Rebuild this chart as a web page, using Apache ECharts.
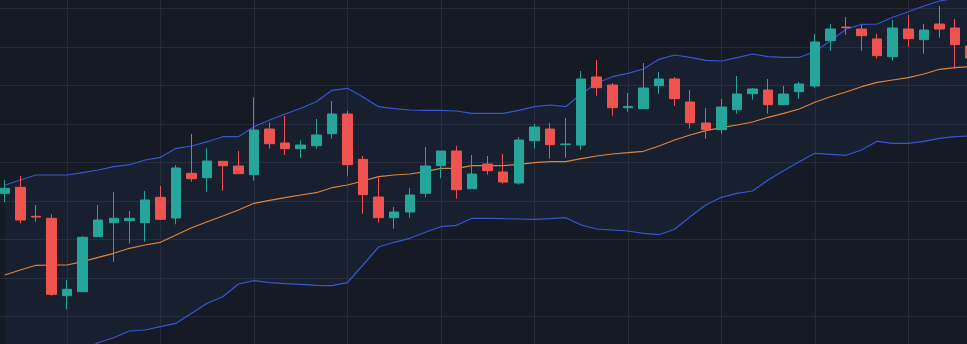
<!DOCTYPE html>
<html>
<head>
<meta charset="utf-8">
<script src="https://cdn.jsdelivr.net/npm/echarts@6/dist/echarts.min.js"></script>
<style>
html,body{margin:0;padding:0;background:#161a25;overflow:hidden;width:967px;height:344px;position:relative;}
#chart{position:absolute;left:-4px;top:-31px;width:990px;height:426px;}
</style>
</head>
<body>
<div id="chart"></div>
<script>
const categories = Array.from({length: 63}, (_, i) => 'Bar ' + (i + 1));

// [open, close, low, high]
const ohlc = [
[161.5,166.5,152.5,174.8],[167.5,134.8,131.5,178.8],[138.5,137.8,133.1,149.8],[136.5,60.5,59.1,140.5],
[59.1,65.5,45.5,74.8],[63.1,117.5,63.1,118.8],[118.1,134.8,118.1,149.8],[132.1,136.5,93.1,162.8],
[134.1,136.5,111.5,143.8],[132.1,154.8,113.1,163.8],[157.5,135.5,134.8,168.8],[136.8,186.8,130.5,189.8],
[181.5,176.1,173.1,220.8],[177.1,193.8,162.8,206.5],[193.5,189.1,164.1,193.5],[188.8,181.1,181.1,203.8],
[180.1,224.8,174.1,257.5],[225.8,211.1,206.1,232.5],[211.8,206.1,199.8,238.8],[206.1,209.8,197.1,214.5],
[209.1,219.8,206.1,235.8],[221.1,240.8,216.1,253.8],[240.8,190.1,179.1,244.1],[195.5,160.1,141.1,198.8],
[157.8,137.1,132.1,177.1],[137.1,142.8,126.1,147.8],[142.8,159.8,137.1,166.8],[161.5,188.8,157.5,207.8],
[189.1,203.8,176.5,203.8],[203.8,165.1,156.1,208.8],[166.1,180.8,166.1,199.8],[190.8,184.1,180.1,198.8],
[182.8,172.8,171.1,200.8],[171.8,214.8,170.1,217.8],[214.1,227.8,206.1,230.8],[225.8,210.1,196.1,231.8],
[210.1,210.8,197.1,236.8],[209.8,275.8,204.8,283.8],[277.8,267.1,259.1,294.8],[269.8,247.1,239.1,271.8],
[247.1,248.3,243.1,261.8],[246.1,266.8,246.1,291.8],[269.1,275.8,261.1,282.8],[275.8,256.1,249.1,277.8],
[252.8,232.1,226.1,264.8],[231.8,225.1,216.1,246.8],[225.1,247.8,221.1,255.8],[245.1,260.8,241.1,278.8],
[261.1,265.8,255.1,266.8],[264.8,250.1,241.1,275.8],[250.1,260.8,250.1,268.8],[263.1,270.8,256.1,272.8],
[268.8,312.8,266.8,320.8],[314.1,325.8,304.1,330.8],[327.8,327.1,320.1,337.8],[325.8,319.1,304.1,329.8],
[315.8,299.1,296.1,320.8],[298.1,326.8,294.1,334.8],[325.8,316.1,308.1,339.8],[315.1,324.8,301.1,330.8],
[330.8,325.8,317.1,348.8],[326.8,310.1,286.1,335.8],[308.8,296.8,292.8,314.8]
];

const upperBand = [169.5,174.8,179.8,179.8,179.8,182.1,184.8,188.1,190.1,194.8,197.5,206.5,208.8,213.1,218.1,218.1,
228.1,234.8,240.8,246.5,253.1,264.5,266.5,257.8,248.1,246.1,244.8,244.5,244.5,243.8,241.5,241.5,241.5,244.5,
248.1,249.8,248.1,260.8,271.5,278.1,281.5,285.8,295.5,299.8,297.5,294.5,293.8,297.1,300.8,298.1,297.5,297.5,
303.1,314.1,325.5,330.5,330.8,337.5,343.1,348.8,353.8,356.3,357.8];

const middleBand = [79.8,84.8,89.5,89.8,89.8,93.1,97.5,101.5,106.5,109.8,112.5,119.8,127.1,133.1,138.8,144.8,
151.5,154.5,157.1,159.8,162.1,167.1,169.8,173.8,178.1,179.8,180.8,183.1,186.5,186.5,189.1,189.1,189.1,190.5,
192.1,193.1,193.1,196.1,198.8,200.8,202.1,203.5,208.8,214.8,219.8,224.1,227.1,229.8,232.8,237.5,241.5,245.8,
252.5,258.1,262.8,268.1,272.5,274.8,277.1,280.8,285.5,287.1,288.1];

const lowerBand = [-9.9,-5.2,-0.8,-0.2,-0.2,4.3,12.1,17.1,23.8,24.8,28.1,31.5,41.5,51.5,58.1,70.8,
74.1,72.1,71.1,70.5,69.5,69.1,72.1,89.8,107.8,112.5,116.5,122.5,128.1,129.5,136.5,136.5,136.1,135.8,
135.5,136.1,137.1,129.8,125.8,124.8,123.8,121.5,120.1,125.5,138.1,149.8,157.5,161.5,163.8,174.8,184.1,193.1,
201.5,200.5,199.5,204.8,213.5,211.5,211.5,213.5,216.5,218.1,218.8];

const bandSpan = upperBand.map((u, i) => +(u - lowerBand[i]).toFixed(1));

const BG = '#161a25';
const GRIDLINE = '#262b37';
const BLUE = '#3656d6';
const ORANGE = '#e0843c';
const UP = '#26a69a';
const DOWN = '#ef5350';

const chart = echarts.init(document.getElementById('chart'), null, {renderer: 'canvas'});
chart.setOption({
  backgroundColor: BG,
  animation: false,
  grid: [
    {left: 0.91, right: 7.59, top: 0.8, bottom: 1.7},
    {left: 8.7, right: 15.34, top: 0.8, bottom: 1.7}
  ],
  xAxis: [
    {type: 'category', gridIndex: 0, data: categories, boundaryGap: true,
     axisLine: {show: false}, axisTick: {show: false}, axisLabel: {show: false}, splitLine: {show: false}},
    {type: 'category', gridIndex: 1, data: categories, boundaryGap: false,
     axisLine: {show: false}, axisTick: {show: false}, axisLabel: {show: false},
     splitLine: {show: true, interval: (idx) => idx % 6 === 4, lineStyle: {color: GRIDLINE, width: 1}}}
  ],
  yAxis: [
    {type: 'value', gridIndex: 0, min: -38.5, max: 385, interval: 38.5, scale: false,
     axisLine: {show: false}, axisTick: {show: false}, axisLabel: {show: false},
     splitLine: {show: true, lineStyle: {color: GRIDLINE, width: 1}}},
    {type: 'value', gridIndex: 1, show: false, splitLine: {show: false}}
  ],
  series: [
    {name: 'bandBase', type: 'line', xAxisIndex: 0, yAxisIndex: 0, data: lowerBand,
     stack: 'bb', stackStrategy: 'all', showSymbol: false, silent: true,
     lineStyle: {opacity: 0}, z: 1},
    {name: 'bandFill', type: 'line', xAxisIndex: 0, yAxisIndex: 0, data: bandSpan,
     stack: 'bb', stackStrategy: 'all', showSymbol: false, silent: true,
     lineStyle: {opacity: 0}, areaStyle: {color: 'rgba(60,110,185,0.09)'}, z: 1},
    {name: 'Upper', type: 'line', data: upperBand, showSymbol: false, silent: true,
     lineStyle: {color: BLUE, width: 1.2}, z: 2},
    {name: 'Lower', type: 'line', data: lowerBand, showSymbol: false, silent: true,
     lineStyle: {color: BLUE, width: 1.2}, z: 2},
    {name: 'Middle', type: 'line', data: middleBand, showSymbol: false, silent: true,
     lineStyle: {color: ORANGE, width: 1.2}, z: 2},
    {name: 'Price', type: 'candlestick', data: ohlc, barWidth: 10, z: 3,
     itemStyle: {color: UP, color0: DOWN, borderColor: UP, borderColor0: DOWN, borderWidth: 1}}
  ]
});
</script>
</body>
</html>
